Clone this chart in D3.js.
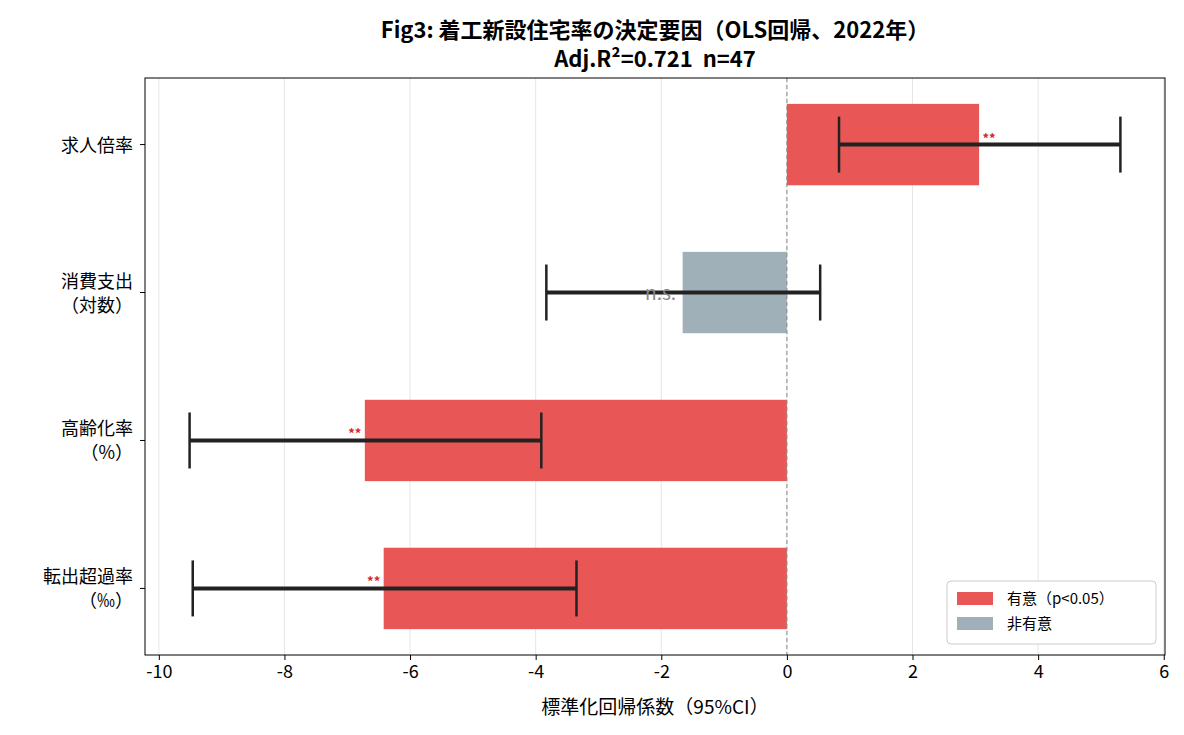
<!DOCTYPE html>
<html><head><meta charset="utf-8">
<script src="https://cdn.jsdelivr.net/npm/d3@7"></script>
<style>body{margin:0;background:#fff;font-family:"Noto Sans CJK JP","Noto Sans",sans-serif;}</style>
</head><body><svg id="c" width="1184" height="735"></svg>
<script>
const categories = ["求人倍率", "消費支出\n（対数）", "高齢化率\n（%）", "転出超過率\n（‰）"];
const coefs = [3.06, -1.66, -6.72, -6.42];
const ciLow = [0.83, -3.83, -9.51, -9.46];
const ciHigh = [5.31, 0.53, -3.91, -3.35];
const sigLabels = ["**", "n.s.", "**", "**"];
const significant = [true, false, true, true];
const xTicks = [-10, -8, -6, -4, -2, 0, 2, 4, 6];

const svg = d3.select("#c");
const L = 145, R = 1165, T = 78, B = 655;
const x = d3.scaleLinear().domain([-10.22, 6.02]).range([L, R]);
const y = d3.scaleLinear().domain([-0.45, 3.45]).range([T, B]);
const bh = y(0.55) - y(0);
const red = "#e85755", grey = "#a0b0b8";

svg.append("g").selectAll("line").data(xTicks).join("line")
  .attr("x1", d => x(d)).attr("x2", d => x(d)).attr("y1", T).attr("y2", B)
  .attr("stroke", "#e6e6e6").attr("stroke-width", 1);

svg.append("g").selectAll("rect").data(coefs).join("rect")
  .attr("x", d => x(Math.min(0, d))).attr("width", d => Math.abs(x(d) - x(0)))
  .attr("y", (d, i) => y(i) - bh / 2).attr("height", bh)
  .attr("fill", (d, i) => significant[i] ? red : grey);

svg.append("line").attr("x1", x(0)).attr("x2", x(0)).attr("y1", T).attr("y2", B)
  .attr("stroke", "#888").attr("stroke-dasharray", "4,3").attr("stroke-width", 1);

const eb = svg.append("g").attr("stroke", "#222");
categories.forEach((c, i) => {
  eb.append("line").attr("x1", x(ciLow[i])).attr("x2", x(ciHigh[i])).attr("y1", y(i)).attr("y2", y(i)).attr("stroke-width", 4);
  [ciLow[i], ciHigh[i]].forEach(v => eb.append("line").attr("x1", x(v)).attr("x2", x(v))
    .attr("y1", y(i) - 28).attr("y2", y(i) + 28).attr("stroke-width", 2.5));
  if (significant[i]) {
    const pos = coefs[i] > 0;
    svg.append("text").attr("x", x(coefs[i]) + (pos ? 10 : -10)).attr("y", y(i) - 2)
      .attr("text-anchor", "middle").attr("fill", "#d62728").attr("font-size", 13).attr("font-weight", "bold").text(sigLabels[i]);
  } else {
    svg.append("text").attr("x", x(coefs[i]) - 22).attr("y", y(i) + 7)
      .attr("text-anchor", "middle").attr("fill", "#888").attr("font-size", 19).text(sigLabels[i]);
  }
  const lines = c.split("\n");
  const t = svg.append("text").attr("text-anchor", "end").attr("font-size", 18).attr("fill", "#000");
  lines.forEach((ln, j) => t.append("tspan").attr("x", L - 12)
    .attr("y", y(i) + 7 + (j - (lines.length - 1) / 2) * 24).text(ln));
  svg.append("line").attr("x1", L - 5).attr("x2", L).attr("y1", y(i)).attr("y2", y(i)).attr("stroke", "#000");
});

svg.append("rect").attr("x", L).attr("y", T).attr("width", R - L).attr("height", B - T)
  .attr("fill", "none").attr("stroke", "#000");

const xa = svg.append("g").attr("transform", `translate(0,${B})`)
  .call(d3.axisBottom(x).tickValues(xTicks).tickSize(5).tickFormat(d => d < 0 ? "-" + Math.abs(d) : d));
xa.select(".domain").remove();
xa.selectAll("text").attr("font-size", 18).attr("fill", "#000").attr("dy", "0.85em").style("font-family", "'Noto Sans CJK JP',sans-serif");

svg.append("text").attr("x", (L + R) / 2).attr("y", 714).attr("text-anchor", "middle").attr("font-size", 19).text("標準化回帰係数（95%CI）");
svg.append("text").attr("x", (L + R) / 2).attr("y", 38).attr("text-anchor", "middle").attr("font-size", 22).attr("font-weight", "bold").text("Fig3: 着工新設住宅率の決定要因（OLS回帰、2022年）");
svg.append("text").attr("x", (L + R) / 2).attr("y", 67).attr("text-anchor", "middle").attr("font-size", 22).attr("font-weight", "bold").attr("xml:space", "preserve").text("Adj.R²=0.721\u00a0\u00a0n=47");

const lg = svg.append("g").attr("transform", "translate(947,581)");
lg.append("rect").attr("width", 209).attr("height", 63).attr("rx", 4).attr("fill", "#fff").attr("stroke", "#ccc");
[["有意（p<0.05）", red], ["非有意", grey]].forEach((d, i) => {
  lg.append("rect").attr("x", 10).attr("y", 11 + i * 25).attr("width", 36).attr("height", 13).attr("fill", d[1]);
  lg.append("text").attr("x", 60).attr("y", 23 + i * 25).attr("font-size", 15).text(d[0]);
});
</script></body></html>
